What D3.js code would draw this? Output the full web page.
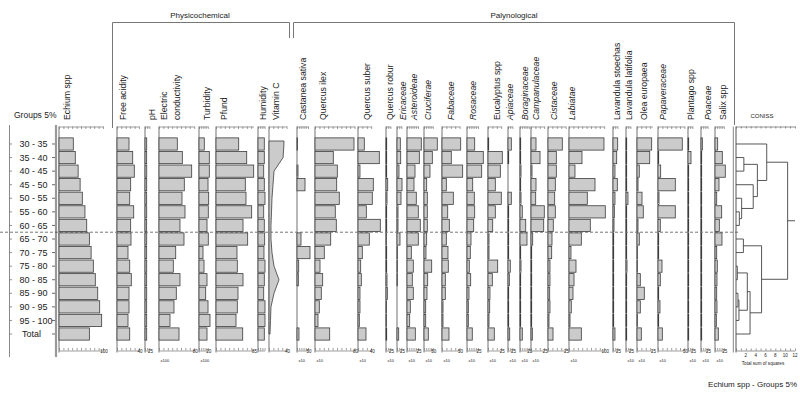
<!DOCTYPE html>
<html><head><meta charset="utf-8">
<script src="https://cdn.jsdelivr.net/npm/d3@7"></script>
<style>
body{margin:0;background:#fff}
svg{display:block}
text{font-family:"Liberation Sans",Arial,sans-serif;fill:#222}
</style></head>
<body><svg id="chart" width="800" height="402"></svg>
<script>
// ---------- DATA ----------
const groups = ["30 - 35","35 - 40","40 - 45","45 - 50","50 - 55","55 - 60","60 - 65","65 - 70","70 - 75","75 - 80","80 - 85","85 - 90","90 - 95","95 - 100","Total"];

const echium       = [32.5,37,43.5,48,53,59,63,69,73,78,82.5,88,92.5,97,69];
const freeAcidity  = [27.3,35.7,39.3,31.1,28.9,38,31.1,31.8,25,28.9,32.5,27.3,27.3,25,28.9];
const pH           = [3.9,3.8,4.0,3.9,3.8,3.9,3.8,3.9,3.8,3.9,3.8,3.9,3.8,3.9,3.9];
const conductivity = [41.6,53,74.3,57.5,52.3,59.1,47.7,56.8,38,32.5,47.7,39.3,34.1,25,45.5];
const turbidity    = [12,23.4,23.4,20.5,22,21.1,18.2,21.1,9.1,11.4,18.2,15.2,20.5,25,18.2];
const pfund        = [51.6,69.8,85.7,66.6,68.2,81.1,61.4,72,47.7,48.4,61.4,50,48.4,45.5,60.7];
const humidity     = [14.3,14.3,13,14.3,15.9,13,14.3,15.2,13.6,15.9,14.3,13,15.9,15.9,14.3];
const vitaminC     = [34,32,11.4,9.1,6.8,5.7,4.5,4.5,6.8,11.4,22.7,11.4,4.5,3.4,2.3];
const castanea     = [1.1,0,2.3,18.2,0,0,0,9.1,29.5,3.9,3,0,0,0,4.5];
const quercusIlex  = [88.6,41.6,50.7,49.3,55.2,46.1,48.4,35.7,21.1,11.4,17.5,14.3,9.8,6.8,33.4];
const quercusSuber = [14.3,48.4,4.5,34.8,32.5,18.9,50.7,25.7,9.8,6.1,7.5,4.5,4.5,3,18.2];
const quercusRobur = [1.6,1.6,1.6,3.9,2.3,1.6,1.6,0.8,1.6,1.6,2.3,3,1.2,1.2,1.6];
const ericaceae    = [7.5,8.4,4.5,11.4,9.1,2.3,2.3,6.8,0.7,0.7,0.7,0,0,0,3.9];
const asteroideae  = [32.5,28,18.2,15.9,21.1,25.7,30.2,25.7,9.8,14.3,12,14.3,7.5,6.1,18.9];
const cruciferae   = [30.2,18.9,13.6,6.1,7.5,7.5,7.5,6.1,4.5,17.5,8.4,6.8,3.9,3.9,9.8];
const fabaceae     = [42.5,21.1,47,9.8,25.7,13,16.6,9.8,13.6,14.3,7.5,7.5,2.3,2.3,15.9];
const rosaceae     = [17.5,37,33.4,13,16.6,17.5,15.2,9.1,7.5,5.2,8.4,4.5,3,3,12];
const eucalyptus   = [1.6,32.5,28,16.6,30.2,16.6,10.7,2.3,2.3,22,9.8,4.5,3.9,2.3,14.3];
const apiaceae     = [7.5,1.6,0,0,7.5,1.6,1.6,1.6,1.6,5.2,3,1.6,1.6,1.6,3.9];
const boraginaceae = [1.6,1.6,2.3,1.6,2.3,5.2,13,15.9,1.6,2.3,1.6,1.6,1.6,1.6,5.2];
const campanulaceae= [11.4,20.5,2.3,11.4,10.7,30.2,28.9,3.9,1.6,1.6,1.6,1.6,1.6,1.6,3];
const cistaceae    = [32.5,18.9,18.9,16.6,15.2,16.6,12,9.1,8.4,4.5,4.5,3.9,4.5,2.3,11.4];
const labiatae     = [79.5,29.5,13.6,59.1,41.6,82.5,48.4,28,4.5,15.9,11.4,9.1,5.2,2.3,28];
const lavStoechas  = [10.7,8.4,4.5,9.8,4.5,3,2.3,1.6,1.6,1.6,1.6,1.6,1.6,1.6,4.5];
const lavLatifolia = [1.6,1.6,1.6,1.6,4.5,1.6,1.6,1.6,1.6,2.3,1.6,1.6,1.6,1.6,1.6];
const olea         = [33.4,28.9,5.2,2.3,11.4,14.3,2.3,5.2,0.7,0.7,7.5,16.6,7.5,0.7,9.8];
const papaveraceae = [55.2,1.6,6.1,39.3,2.3,39.3,5.2,1.6,1.6,9.1,5.2,1.6,4.5,1.6,9.8];
const plantago     = [1.6,6.8,1.6,1.6,1.6,1.6,1.6,1.6,1.6,1.6,1.6,1.6,1.6,1.6,1.6];
const poaceae      = [3,1.6,1.6,1.6,1.6,1.6,1.6,1.6,1.6,1.6,1.6,1.6,1.6,1.6,1.6];
const salix        = [6.1,16.6,23.4,9.1,3.9,15.2,9.8,15.9,3.9,5.2,4.5,3.9,4.5,3,7.5];

const varNames  = ["Echium spp","Free acidity","pH","Electric|conductivity","Turbidity","Pfund","Humidity","Vitamin C",
  "Castanea sativa","Quercus ilex","Quercus suber","Quercus robur","Ericaceae","Asteroideae","Cruciferae","Fabaceae",
  "Rosaceae","Eucalyptus spp","Apiaceae","Boraginaceae","Campanulaceae","Cistaceae","Labiatae","Lavandula stoechas",
  "Lavandula latifolia","Olea europaea","Papaveraceae","Plantago spp","Poaceae","Salix spp"];
const varValues = [echium,freeAcidity,pH,conductivity,turbidity,pfund,humidity,vitaminC,castanea,quercusIlex,quercusSuber,
  quercusRobur,ericaceae,asteroideae,cruciferae,fabaceae,rosaceae,eucalyptus,apiaceae,boraginaceae,campanulaceae,cistaceae,
  labiatae,lavStoechas,lavLatifolia,olea,papaveraceae,plantago,poaceae,salix];
const varMax    = [100,50,10,80,20,85,15,40,25,90,30,10,10,25,20,40,25,30,10,20,30,40,80,10,10,35,60,10,15,20];
const varLabel  = ["100","40","25","80","20","85","","40","50","80","40","25","25","25","50","50","25","25","25","25","25","25","100","25","25","25","50","25","25","25"];
const varSub    = ["","","","x100","x100","","","","x10","x10","x10","x10","","x10","x10","x10","x10","x10","x10","x10","x10","","x10","","x10","x10","x10","x10","x10","x10"];
const varItalic = [0,0,0,0,0,0,0,0,0,0,0,0,1,1,1,1,1,0,1,1,1,1,1,0,0,0,1,0,1,0];
const varType   = ["bar","bar","bar","bar","bar","bar","bar","area","bar","bar","bar","bar","bar","bar","bar","bar","bar","bar","bar","bar","bar","bar","bar","bar","bar","bar","bar","bar","bar","bar"];

// CONISS clustering (merge heights, total sum of squares); leaves are group indices
const coniss = {h:10.5, c:[
  {h:6.25, c:[0, {h:4.35, c:[{h:1.6, c:[1,2]}, {h:3.5, c:[3, {h:1.15, c:[4, {h:0.68, c:[5,6]}]}]}]}]},
  {h:5.2, c:[{h:1.5, c:[7,8]}, {h:2.86, c:[{h:2.3, c:[{h:0.27, c:[9,10]}, {h:0.6, c:[{h:0.4, c:[11,12]}, 13]}]}, 14]}]}
]};
const conissTicks = [2,4,6,8,10,12];

// ---------- LAYOUT ----------
const colLeft = [59,117,145,159,199,216,258,269,297,315,358,386,397,407,424,442,467,488,508,520,531,548,569,613,626,637,658,688,701,715];
const labelCx = [67,123,152,[164,177],207,224,263,276,303,323,367,390,403,414,428,451,473,497,510,525,536,554,572,617,629,644,663,691,708,723];
const K = 0.44;           // px per unit, shared by all columns
const topY = 126.5, botY = 350.5;

const svg = d3.select("#chart");
const y = d3.scaleBand().domain(groups).range([137.2, 340.8]).paddingInner(0.1).paddingOuter(0.05);
const bw = y.bandwidth();
const cy = g => y(g) + bw/2;

// left frame lines & group labels
svg.append("line").attr("x1",9.5).attr("x2",9.5).attr("y1",125).attr("y2",357).attr("stroke","#888").attr("stroke-width",1);
svg.append("line").attr("x1",56).attr("x2",56).attr("y1",125).attr("y2",357).attr("stroke","#999").attr("stroke-width",2.2);
groups.forEach(g=>{
  svg.append("line").attr("x1",9.5).attr("x2",12).attr("y1",cy(g)).attr("y2",cy(g)).attr("stroke","#777").attr("stroke-width",0.8);
  svg.append("line").attr("x1",52).attr("x2",55).attr("y1",cy(g)).attr("y2",cy(g)).attr("stroke","#444").attr("stroke-width",0.8);
  svg.append("text").attr("x", g==="Total"?22:19.5).attr("y",cy(g)+3.2).attr("font-size",9).attr("fill","#333").text(g);
});
svg.append("text").attr("x",14).attr("y",118).attr("font-size",8.5).text("Groups 5%");

// dashed zone line
const yDash = y(groups[6]) + y.step() - (y.step()-bw)/2;
svg.append("line").attr("x1",0).attr("x2",740).attr("y1",yDash).attr("y2",yDash)
  .attr("stroke","#555").attr("stroke-width",0.8).attr("stroke-dasharray","3,2");

// columns
varNames.forEach((name,i)=>{
  const left = colLeft[i], max = varMax[i];
  const xs = d3.scaleLinear().domain([0,max]).range([left, left+max*K]);
  const step = max >= 30 ? 10 : 5;
  const tv = d3.range(0, max+0.001, step);
  const g = svg.append("g");
  // vertical axis line
  g.append("line").attr("x1",left).attr("x2",left).attr("y1",topY).attr("y2",botY+2).attr("stroke","#888").attr("stroke-width",1.2);
  // top axis
  g.append("g").attr("transform",`translate(0,${topY})`).attr("color","#777")
    .call(d3.axisBottom(xs).tickValues(tv).tickSize(2.5).tickSizeOuter(0).tickFormat(""))
    .call(s=>s.selectAll("path,line").attr("stroke-width",0.7));
  // bottom axis
  g.append("g").attr("transform",`translate(0,${botY})`).attr("color","#777")
    .call(d3.axisTop(xs).tickValues(tv).tickSize(2.5).tickSizeOuter(0).tickFormat(""))
    .call(s=>s.selectAll("path,line").attr("stroke-width",0.7));
  if (varLabel[i]) g.append("text").attr("x",xs(max)+1).attr("y",botY+2.5).attr("font-size",4.5).attr("fill","#666").attr("text-anchor","middle").text(varLabel[i]);
  if (varSub[i]) g.append("text").attr("x",left+1.5).attr("y",362).attr("font-size",4).attr("fill","#666").text(varSub[i]);
  // marks
  const vals = varValues[i];
  if (varType[i]==="area") {
    const pts = [{g:null, yy: cy(groups[0])-3, v: vals[0]}].concat(groups.map((gg,j)=>({yy:cy(gg), v:vals[j]})));
    const area = d3.area().y(d=>d.yy).x0(xs(0)).x1(d=>xs(d.v));
    g.append("path").attr("d",area(pts)).attr("fill","#cbcbcb").attr("stroke","#3c3c3c").attr("stroke-width",0.8);
  } else {
    g.selectAll("rect.bar").data(groups.map((gg,j)=>({g:gg,v:vals[j]})).filter(d=>d.v>0)).join("rect")
      .attr("x",xs(0)).attr("y",d=>y(d.g)).attr("width",d=>xs(d.v)-xs(0)).attr("height",bw)
      .attr("fill","#cbcbcb").attr("stroke","#3c3c3c").attr("stroke-width",0.8);
  }
  // header label
  const parts = name.split("|");
  parts.forEach((p,pi)=>{
    const cx = Array.isArray(labelCx[i]) ? labelCx[i][pi] : labelCx[i];
    svg.append("text").attr("transform",`translate(${cx+3},120) rotate(-90)`).attr("font-size",8.7)
      .attr("font-style", varItalic[i]?"italic":"normal").text(p);
  });
});

// brackets
const br = svg.append("g").attr("fill","none").attr("stroke","#777").attr("stroke-width",1);
br.append("path").attr("d","M112.5,128 V22.5 H289.5 V38");
br.append("path").attr("d","M293.5,38 V22.5 H734.5 V125");
svg.append("text").attr("x",200).attr("y",18).attr("font-size",8).attr("text-anchor","middle").text("Physicochemical");
svg.append("text").attr("x",514).attr("y",18).attr("font-size",8).attr("text-anchor","middle").text("Palynological");

// CONISS
const cx = d3.scaleLinear().domain([0,12]).range([736,795]);
svg.append("line").attr("x1",733.3).attr("x2",733.3).attr("y1",topY).attr("y2",botY+2).attr("stroke","#888").attr("stroke-width",1);
svg.append("line").attr("x1",736).attr("x2",736).attr("y1",topY).attr("y2",botY+2).attr("stroke","#555").attr("stroke-width",1);
svg.append("g").attr("transform",`translate(0,${topY})`).attr("color","#666")
  .call(d3.axisBottom(cx).tickValues(d3.range(0,13,1)).tickSize(2).tickSizeOuter(0).tickFormat(""))
  .call(s=>s.selectAll("path,line").attr("stroke-width",0.7));
svg.append("g").attr("transform",`translate(0,${botY})`).attr("color","#666")
  .call(d3.axisTop(cx).tickValues(d3.range(0,13,1)).tickSize(2).tickSizeOuter(0).tickFormat(""))
  .call(s=>s.selectAll("path,line").attr("stroke-width",0.7));
conissTicks.forEach(t=>svg.append("text").attr("x",cx(t)).attr("y",357).attr("font-size",4.5).attr("fill","#555").attr("text-anchor","middle").text(t));
svg.append("text").attr("x",763).attr("y",365).attr("font-size",4.6).attr("fill","#444").attr("text-anchor","middle").text("Total sum of squares");
svg.append("text").attr("x",762).attr("y",118).attr("font-size",6).attr("text-anchor","middle").text("CONISS");

const dg = svg.append("g").attr("stroke","#444").attr("stroke-width",0.9).attr("fill","none");
function drawNode(n){
  if (typeof n === "number") return {yy: cy(groups[n]), h: 0};
  const kids = n.c.map(drawNode);
  const ys = kids.map(k=>k.yy);
  dg.append("line").attr("x1",cx(n.h)).attr("x2",cx(n.h)).attr("y1",d3.min(ys)).attr("y2",d3.max(ys));
  kids.forEach(k=>dg.append("line").attr("x1",cx(k.h)).attr("x2",cx(n.h)).attr("y1",k.yy).attr("y2",k.yy));
  return {yy:(d3.min(ys)+d3.max(ys))/2, h:n.h};
}
const root = drawNode(coniss);
dg.append("line").attr("x1",cx(root.h)).attr("x2",cx(12)).attr("y1",root.yy).attr("y2",root.yy);

svg.append("text").attr("x",797).attr("y",387).attr("font-size",8).attr("text-anchor","end").text("Echium spp - Groups  5%");
</script></body></html>
